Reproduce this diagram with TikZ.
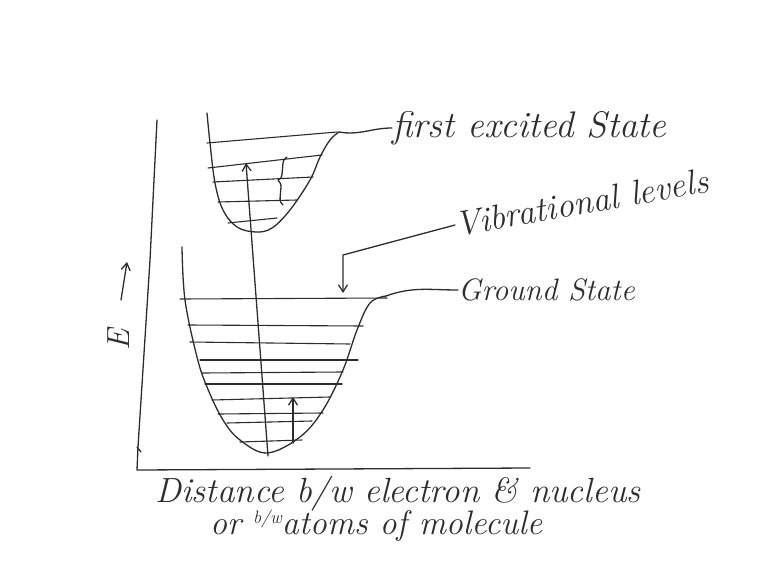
\documentclass[tikz,border=0pt]{standalone}
\usepackage{tikz}
\usetikzlibrary{arrows.meta,decorations.pathreplacing}
\definecolor{penink}{RGB}{45,45,45}

\tikzset{
  sketch/.style={penink,line width=1.3pt,line cap=round,line join=round},
  lvl/.style={penink,line width=1.1pt,line cap=round},
  pen/.style={-{Straight Barb[length=7pt,width=9pt]}},
  lbl/.style={penink,font=\fontsize{28}{32}\selectfont\itshape,inner sep=0pt}
}

\begin{document}
\begin{tikzpicture}[x=1pt,y=-1pt]
  \useasboundingbox (0,0) rectangle (770,580);
  % axes
  \draw[sketch] (157,120) -- (150,260) -- (138,447) -- (137,470) -- (530,468);
  \draw[sketch] (137,447) -- (141,452);
  % energy label
  \node[lbl,font=\fontsize{32}{36}\selectfont\itshape,rotate=90] (en) at (119,340) {E};
  \draw[sketch,pen] (121,300) -- (127,262);
  % ground state well
  \draw[sketch] plot[smooth,tension=0.6] coordinates {(182,247) (185,300) (197,357) (207,387) (223,420) (240,440) (267,453) (300,437) (323,410) (343,370) (357,330) (370,303) (386,296)};
  \coordinate (gc) at (386,296);
  \draw[lvl] (180,299) -- (387,298);
  \draw[lvl] (188,325) -- (363,326);
  \draw[lvl] (190,342) -- (350,344);
  \draw[lvl] (200,360) -- (358,360);
  \draw[lvl] (202,373) -- (343,372);
  \draw[lvl] (205,384) -- (342,384);
  \draw[lvl] (212,400) -- (330,397);
  \draw[lvl] (218,414) -- (323,413);
  \draw[lvl] (227,423) -- (312,421);
  \draw[lvl] (240,442) -- (302,440);
  % excited state well
  \draw[sketch] plot[smooth,tension=0.6] coordinates {(207,113) (210,143) (215,183) (223,210) (237,227) (256,232) (272,228) (290,210) (310,180) (320,157) (330,140) (339,132)};
  \coordinate (ec) at (339,132);
  \draw[lvl] (207,143) -- (337,132);
  \draw[lvl] (208,168) -- (322,155);
  \draw[lvl] (213,182) -- (313,177);
  \draw[lvl] (218,202) -- (297,200);
  \draw[lvl] (228,223) -- (277,218);
  \draw[sketch,decorate,decoration={brace,amplitude=7pt,mirror}] (287,157) -- (283,205);
  % transitions
  \coordinate (g0) at (268,456);
  \coordinate (e2) at (246,163);
  \draw[sketch,pen] (g0) -- (e2);
  \coordinate (v0) at (293,443);
  \coordinate (v4) at (293,397);
  \draw[sketch,pen] (v0) -- (v4);
  % labels
  \node[lbl,font=\fontsize{37}{40}\selectfont\itshape,anchor=west] (fes) at (392,128) {first excited State};
  \node[lbl,font=\fontsize{31}{34}\selectfont\itshape,anchor=west] (gs) at (458,290) {Ground State};
  \node[lbl,font=\fontsize{35}{38}\selectfont\itshape,anchor=west,rotate=10] (vl) at (455,225) {Vibrational levels};
  \draw[sketch] (ec) to[out=-10,in=180] (fes.west);
  \draw[sketch] (gc) to[out=20,in=180] (gs.west);
  \coordinate (vb) at (343,255);
  \coordinate (vt) at (343,293);
  \draw[sketch,pen] (vl.west) -- (vb) -- (vt);
  \node[lbl,font=\fontsize{35}{38}\selectfont\itshape] (dx) at (398,494) {Distance b/w electron \& nucleus};
  \node[lbl,font=\fontsize{34}{38}\selectfont\itshape,anchor=north west] (dx2) at (210,510) {or \raisebox{0.75ex}{\fontsize{18}{20}\selectfont b/w}atoms of molecule};
\end{tikzpicture}
\end{document}
